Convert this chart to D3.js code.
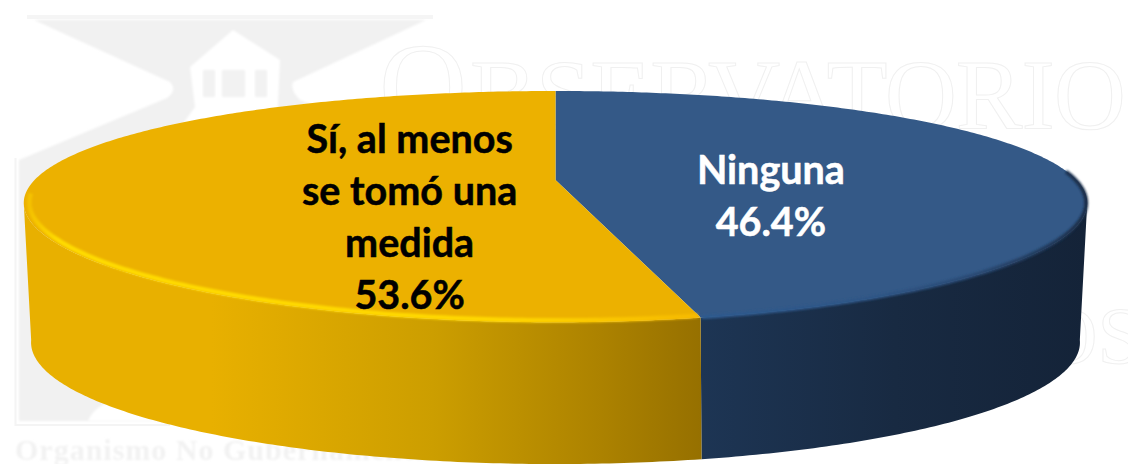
<!DOCTYPE html>
<html>
<head>
<meta charset="utf-8">
<script src="https://cdn.jsdelivr.net/npm/d3@7"></script>
<style>
    html, body { margin: 0; padding: 0; background: #fff; }
    svg { display: block; }
</style>
</head>
<body>
<div id="chart"></div>
<script>
// Chart values
const categories = ["Ninguna", "Sí, al menos se tomó una medida"];
const shares = [46.4, 53.6];
const labelLines = [["Ninguna", "46.4%"], ["Sí, al menos", "se tomó una", "medida", "53.6%"]];
const topColors = ["#345987", "#ecb100"];
const textColors = ["#ffffff", "#000000"];

const width = 1128, height = 464;
const cx = 555.5;

// Perspective of the pie: top face and (lower, slightly narrower) bottom face
const k = 0.23, kx = 0.2;
const topFace = {y0: 180, rx: 521, ry: 109.5, kx: kx};
const bottomFace = {y0: 316, rx: 511.6, ry: 114, kx: 0.22};

// angle 0 = back of the pie, clockwise. t = fraction of the radius
function project(face, angle, t = 1) {
    const u = Math.sin(angle) * t, v = -Math.cos(angle) * t;
    return [cx + face.rx * u / (1 - face.kx * v), face.y0 + face.ry * v / (1 - k * v)];
}

function arcPoints(face, a0, a1, t = 1) {
    const n = Math.max(2, Math.ceil(Math.abs(a1 - a0) * 90));
    return d3.range(n + 1).map(i => project(face, a0 + (a1 - a0) * i / n, t));
}

const line = d3.line();
const svg = d3.select("#chart").append("svg")
    .attr("width", width).attr("height", height);
const defs = svg.append("defs");

function hGradient(id, x1, x2, stops) {
    const g = defs.append("linearGradient").attr("id", id)
        .attr("gradientUnits", "userSpaceOnUse")
        .attr("x1", x1).attr("x2", x2).attr("y1", 0).attr("y2", 0);
    stops.forEach(s => g.append("stop").attr("offset", s[0]).attr("stop-color", s[1]));
}

defs.append("filter").attr("id", "soft").attr("x", "-5%").attr("y", "-20%").attr("width", "110%").attr("height", "140%")
    .append("feGaussianBlur").attr("stdDeviation", 1.3);
defs.append("filter").attr("id", "rimBlur").attr("x", "-5%").attr("y", "-20%").attr("width", "110%").attr("height", "140%")
    .append("feGaussianBlur").attr("stdDeviation", 1);

// Watermark behind the pie
const mark = svg.append("g");
mark.append("rect").attr("x", 27).attr("y", 15).attr("width", 406).attr("height", 4).attr("fill", "#f5f5f5");
mark.append("path").attr("fill", "#f1f1f1").attr("filter", "url(#soft)")
    .attr("d", "M34,20 L426,20 L293,82 Q290,90 300,100 L330,112 L330,421 L19,421 L19,160 L167,98 Q178,90 170,82 Z");
mark.append("path").attr("fill", "none").attr("stroke", "#f4f4f4").attr("stroke-width", 2)
    .attr("d", "M15.5,158 L15.5,425 L170,425");
mark.append("path").attr("fill", "#ffffff").attr("filter", "url(#soft)")
    .attr("d", "M233,30 L280,60 L277,125 L182,125 L195,107 L190,67 Z");
[[203, 12], [222, 23], [255, 12]].forEach(w => mark.append("rect")
    .attr("x", w[0]).attr("y", 70).attr("width", w[1]).attr("height", 27)
    .attr("fill", "#f2f2f2").attr("filter", "url(#soft)"));
mark.append("path").attr("fill", "#ffffff").attr("filter", "url(#soft)")
    .attr("d", "M88,421 Q92,410 106,403 L175,421 Z");

const serif = "Liberation Serif";
mark.append("text").attr("x", 379).attr("y", 128)
    .attr("font-family", serif).attr("font-size", 122)
    .attr("fill", "#ffffff").attr("stroke", "#f0f0f0").attr("stroke-width", 1)
    .text("O");
mark.append("text").attr("x", 470).attr("y", 128)
    .attr("font-family", serif).attr("font-size", 100)
    .attr("fill", "#ffffff").attr("stroke", "#f0f0f0").attr("stroke-width", 1)
    .attr("textLength", 656).attr("lengthAdjust", "spacing")
    .text("BSERVATORIO");
mark.append("text").attr("x", 1142).attr("y", 363).attr("text-anchor", "end")
    .attr("font-family", serif).attr("font-size", 80)
    .attr("fill", "#ffffff").attr("stroke", "#f0f0f0").attr("stroke-width", 1)
    .text("OS");
mark.append("text").attr("x", 15).attr("y", 460)
    .attr("font-family", serif).attr("font-weight", "bold").attr("font-size", 30)
    .attr("letter-spacing", 1)
    .attr("fill", "#f2f2f2").attr("filter", "url(#soft)")
    .text("Organismo No Gubernamental");

// Pie angles come straight from the shares
const arcs = d3.pie().sort(null)(shares);
const TAU = 2 * Math.PI;
const sideAngle = Math.acos(-kx);           // angle of the right outline
const leftAngle = TAU - sideAngle;          // angle of the left outline

// Side walls
hGradient("wall0", 702, 1087, [[0, "#1d3554"], [0.5, "#182a42"], [1, "#142338"]]);
hGradient("wall1", 30, 702, [[0, "#e8b000"], [0.27, "#e8b000"], [0.6, "#cc9e00"], [0.85, "#ac8200"], [1, "#967000"]]);

const wallRanges = [[sideAngle, arcs[0].endAngle], [arcs[1].startAngle, leftAngle]];
svg.selectAll(".wall").data(wallRanges).join("path")
    .attr("class", "wall")
    .attr("fill", (d, i) => "url(#wall" + i + ")")
    .attr("d", d => line(arcPoints(topFace, d[0], d[1]).concat(arcPoints(bottomFace, d[1], d[0]))) + "Z");

// Top face
svg.selectAll(".slice").data(arcs).join("path")
    .attr("class", "slice")
    .attr("fill", (d, i) => topColors[i])
    .attr("d", d => line([project(topFace, 0, 0)].concat(arcPoints(topFace, d.startAngle, d.endAngle))) + "Z");

// Bevel along the rim
hGradient("rim1", 24, 702, [[0, "#f2bc00"], [0.05, "#ffdc00"], [0.7, "#ffd800"], [1, "#f6b900"]]);
hGradient("rim0", 702, 1087, [[0, "#2e5a8e"], [0.45, "#2f5585"], [0.7, "#2a4a74"], [0.9, "#22395a"], [1, "#1a2d47"]]);
svg.append("path").attr("fill", "none").attr("stroke", "url(#rim1)").attr("stroke-width", 4.5)
    .attr("filter", "url(#rimBlur)")
    .attr("d", line(arcPoints(topFace, arcs[1].startAngle + 0.002, leftAngle + 0.08, 0.99)));
svg.append("path").attr("fill", "none").attr("stroke", "url(#rim0)").attr("stroke-width", 4)
    .attr("filter", "url(#rimBlur)")
    .attr("d", line(arcPoints(topFace, arcs[0].endAngle - 0.002, sideAngle - 0.28, 0.998)));

// Labels
const labelT = [0.42, 0.28], labelDy = [22, 35];
const lineStep = 52;
arcs.forEach((d, i) => {
    const p = project(topFace, (d.startAngle + d.endAngle) / 2, labelT[i]);
    const lines = labelLines[i];
    svg.append("text")
        .attr("text-anchor", "middle")
        .attr("font-family", "Lato, Carlito, Calibri, sans-serif")
        .attr("font-weight", 700)
        .attr("font-size", 39.5)
        .attr("fill", textColors[i])
        .attr("stroke", textColors[i]).attr("stroke-width", 0.5)
        .selectAll("tspan").data(lines).join("tspan")
        .attr("x", p[0])
        .attr("y", (l, j) => p[1] + labelDy[i] + (j - (lines.length - 1) / 2) * lineStep + 13)
        .text(l => l);
});
</script>
</body>
</html>
